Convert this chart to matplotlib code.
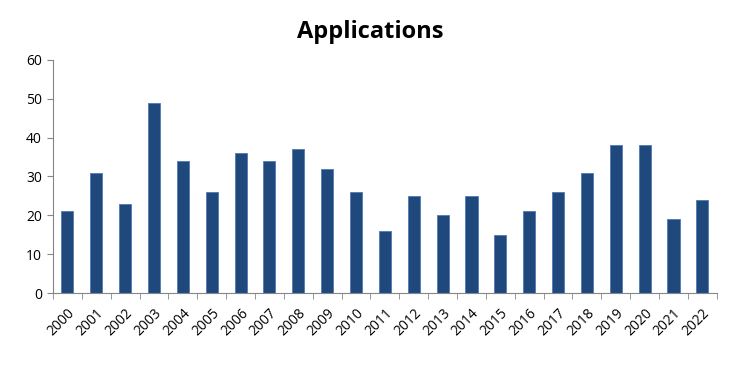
import matplotlib
matplotlib.use("Agg")
import matplotlib.pyplot as plt
import numpy as np

years = [str(y) for y in range(2000, 2023)]
applications = [21, 31, 23, 49, 34, 26, 36, 34, 37, 32, 26, 16, 25, 20, 25, 15, 21, 26, 31, 38, 38, 19, 24]

plt.rcParams['font.family'] = ['Open Sans', 'DejaVu Sans']

fig = plt.figure(figsize=(7.4, 3.7), dpi=100)
ax = fig.add_axes([0.0716, 0.208, 0.897, 0.63])

x = np.arange(len(years))
ax.bar(x, applications, width=0.42, color='#1F497D', edgecolor='#4F7AB0', linewidth=0.6)

ax.set_xlim(-0.5, len(years) - 0.5)
ax.set_ylim(0, 60)
ax.set_yticks(range(0, 61, 10))
ax.tick_params(axis='y', labelsize=10, length=4, color='#868686', direction='out', pad=4)

ax.set_xticks(x)
ax.set_xticklabels(years, rotation=45, ha='right', rotation_mode='anchor', fontsize=10)
ax.set_xticks(np.arange(-0.5, len(years), 1), minor=True)
ax.tick_params(axis='x', which='major', length=0, pad=9)
ax.tick_params(axis='x', which='minor', length=4, color='#868686', direction='out')

for side in ['top', 'right']:
    ax.spines[side].set_visible(False)
for side in ['left', 'bottom']:
    ax.spines[side].set_color('#868686')

fig.text(0.5, 0.913, 'Applications', ha='center', va='center', fontsize=17, fontweight='bold')

fig.savefig('out.png', dpi=100)
